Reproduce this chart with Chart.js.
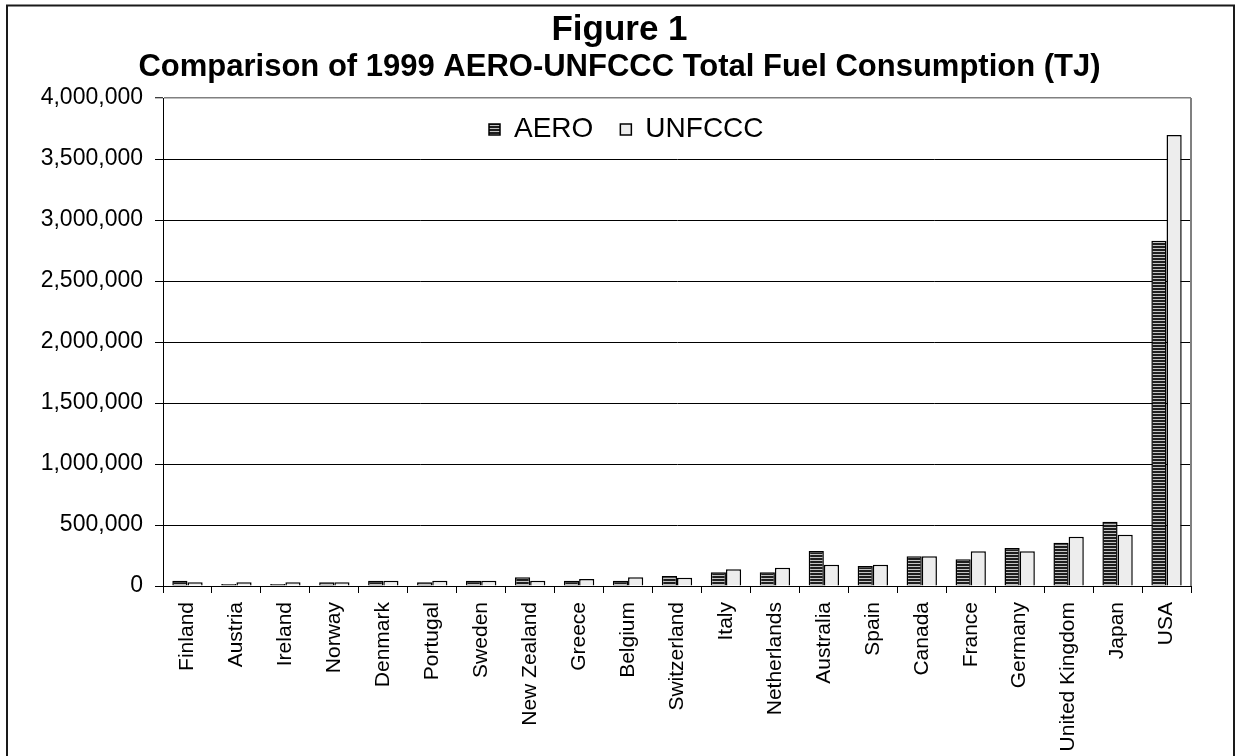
<!DOCTYPE html>
<html>
<head>
<meta charset="utf-8">
<script src="https://cdn.jsdelivr.net/npm/chart.js@4.4.1/dist/chart.umd.min.js"></script>
<style>
  html, body { margin: 0; padding: 0; background: #fff; overflow: hidden; }
  #wrap { width: 1239px; height: 756px; position: relative; }
  canvas { display: block; }
</style>
</head>
<body>
<div id="wrap"><canvas id="c" width="1239" height="756"></canvas></div>
<script>
// ---- Data ----
const categories = ['Finland', 'Austria', 'Ireland', 'Norway', 'Denmark', 'Portugal', 'Sweden',
  'New Zealand', 'Greece', 'Belgium', 'Switzerland', 'Italy', 'Netherlands', 'Australia',
  'Spain', 'Canada', 'France', 'Germany', 'United Kingdom', 'Japan', 'USA'];
const aeroValues = [44000, 16000, 16000, 30000, 44000, 30000, 44000,
  71000, 44000, 44000, 82000, 112000, 112000, 287000,
  164000, 243000, 219000, 311000, 355000, 527000, 2830000];
const unfcccValues = [30000, 30000, 30000, 30000, 44000, 44000, 44000,
  44000, 57000, 71000, 68000, 137000, 150000, 175000,
  175000, 243000, 284000, 284000, 404000, 421000, 3696000];
const seriesNames = ['AERO', 'UNFCCC'];
const yTickValues = [0, 500000, 1000000, 1500000, 2000000, 2500000, 3000000, 3500000, 4000000];
const titleText = 'Figure 1';
const subtitleText = 'Comparison of 1999 AERO-UNFCCC Total Fuel Consumption (TJ)';

// ---- Styling ----
const FONT = "'Liberation Sans', Arial, sans-serif";

function makeStripePattern() {
  const p = document.createElement('canvas');
  p.width = 4; p.height = 3;
  const g = p.getContext('2d');
  g.fillStyle = '#1e1e1e'; g.fillRect(0, 0, 4, 2);
  g.fillStyle = '#c4c4c4'; g.fillRect(0, 2, 4, 1);
  return document.getElementById('c').getContext('2d').createPattern(p, 'repeat');
}
const stripe = makeStripePattern();

function fmt(v) {
  return String(v).replace(/\B(?=(\d{3})+(?!\d))/g, ',');
}

const framePlugin = {
  id: 'frame',
  beforeDraw(chart) {
    const ctx = chart.ctx;
    ctx.save();
    ctx.fillStyle = '#fff';
    ctx.fillRect(0, 0, chart.width, chart.height);
    ctx.restore();
  },
  afterDatasetsDraw(chart) {
    const { ctx, chartArea: a } = chart;
    ctx.save();
    ctx.strokeStyle = '#808080';
    ctx.lineWidth = 2;
    ctx.beginPath();
    ctx.moveTo(a.right, a.top);
    ctx.lineTo(a.right, a.bottom);
    ctx.stroke();
    ctx.restore();
  },
  afterDraw(chart) {
    const ctx = chart.ctx;
    ctx.save();
    ctx.strokeStyle = '#1a1a1a';
    ctx.lineWidth = 2;
    ctx.strokeRect(7, 5.5, 1227, 800);
    ctx.restore();
  }
};

// Place the legend inside the plot area (as in the reference)
const legendInside = {
  id: 'legendInside',
  afterLayout(chart) {
    const lg = chart.legend;
    const a = chart.chartArea;
    if (!lg) return;
    const pad = lg.options.labels.padding;
    lg.left = a.left + 326 - pad;
    lg.right = lg.left + 420;
    lg.width = 420;
    lg.top = a.top + 17.5 - pad;
    lg.height = 60;
    lg.bottom = lg.top + 60;
  }
};

const chart = new Chart(document.getElementById('c'), {
  type: 'bar',
  data: {
    labels: categories,
    datasets: [
      {
        label: seriesNames[0],
        data: aeroValues,
        backgroundColor: stripe,
        borderColor: '#000',
        borderWidth: 1.5,
        barPercentage: 1.0,
        categoryPercentage: 0.62
      },
      {
        label: seriesNames[1],
        data: unfcccValues,
        backgroundColor: '#ededed',
        borderColor: '#000',
        borderWidth: 1.5,
        barPercentage: 1.0,
        categoryPercentage: 0.62
      }
    ]
  },
  options: {
    responsive: false,
    animation: false,
    devicePixelRatio: 1,
    layout: { padding: { left: 8, right: 8, top: 0, bottom: 0 } },
    plugins: {
      title: {
        display: true,
        text: titleText,
        color: '#000',
        font: { family: FONT, size: 35, weight: 'bold', lineHeight: 1.1 },
        padding: { top: 11, bottom: 0 }
      },
      subtitle: {
        display: true,
        text: subtitleText,
        color: '#000',
        font: { family: FONT, size: 31, weight: 'bold', lineHeight: 1.1 },
        padding: { top: 1, bottom: 13.4 }
      },
      legend: {
        display: true,
        position: 'top',
        align: 'start',
        maxHeight: 0.01,
        labels: {
          color: '#000',
          font: { family: FONT, size: 28 },
          boxWidth: 11,
          boxHeight: 11,
          padding: 27
        }
      },
      tooltip: { enabled: false }
    },
    scales: {
      x: {
        grid: {
          offset: true,
          drawOnChartArea: false,
          drawTicks: true,
          tickLength: 7,
          tickColor: '#000',
          tickWidth: 1
        },
        border: { display: true, color: '#000', width: 1 },
        ticks: {
          color: '#000',
          font: { family: FONT, size: 21 },
          minRotation: 90,
          maxRotation: 90,
          autoSkip: false,
          padding: 9
        },
        afterFit(s) { s.height = 170; }
      },
      y: {
        min: 0,
        max: 4000000,
        afterBuildTicks(s) { s.ticks = yTickValues.map(v => ({ value: v })); },
        grid: {
          color: (c) => (c.tick && c.tick.value === yTickValues[yTickValues.length - 1]) ? '#808080' : '#000',
          lineWidth: (c) => (c.tick && c.tick.value === yTickValues[yTickValues.length - 1]) ? 1.5 : 1,
          drawTicks: true,
          tickLength: 8,
          tickColor: '#000',
          tickWidth: 1
        },
        border: { display: true, color: '#000', width: 1 },
        ticks: {
          color: '#000',
          font: { family: FONT, size: 23 },
          padding: 12,
          callback: (v) => fmt(v)
        },
        afterFit(s) { s.width = 155; }
      },
      yRightSpacer: {
        type: 'linear',
        position: 'right',
        display: true,
        min: 0,
        max: 4000000,
        grid: { display: false, drawTicks: false },
        border: { display: false },
        ticks: { display: false },
        afterFit(s) { s.width = 40; }
      }
    }
  },
  plugins: [framePlugin, legendInside]
});

// Fine-tune so the plot area top sits where the reference puts it
const wantTop = 98;
const d = wantTop - chart.chartArea.top;
if (Math.abs(d) > 0.25) {
  chart.options.plugins.subtitle.padding.bottom = Math.max(0, 13.4 + d);
  chart.update('none');
}
</script>
</body>
</html>
